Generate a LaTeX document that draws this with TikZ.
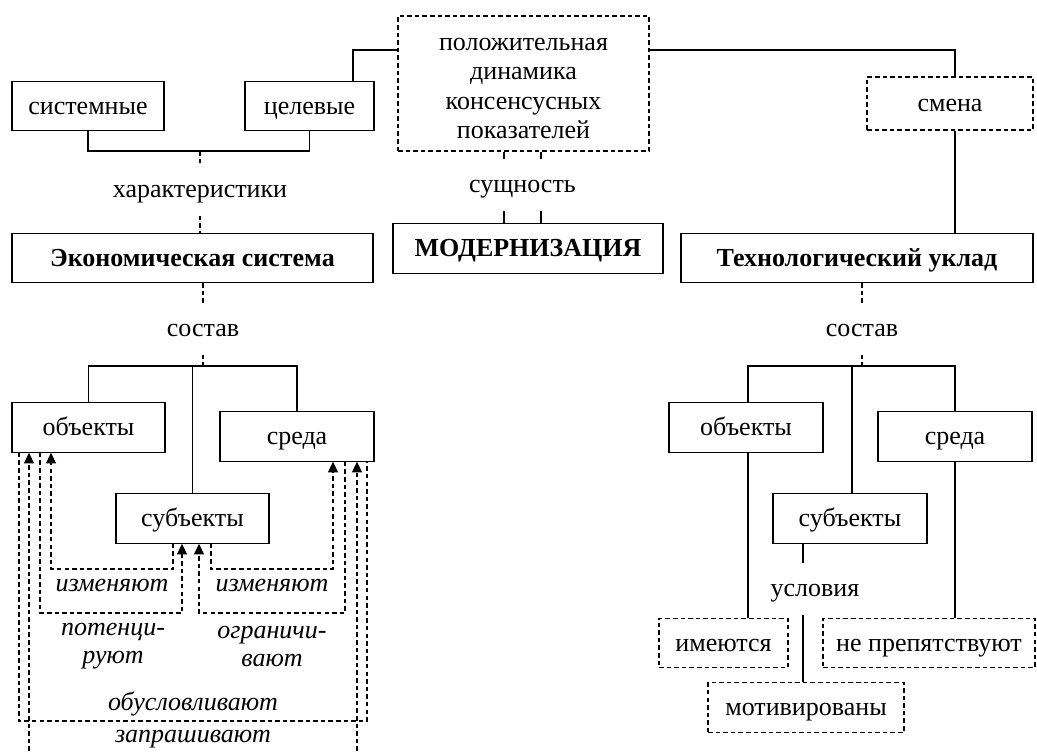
\documentclass[tikz,border=0pt]{standalone}
\usepackage{fontspec}
\setmainfont{Liberation Serif}
\usepackage{tikz}
\usetikzlibrary{arrows.meta}

\begin{document}
\begin{tikzpicture}[x=0.75pt,y=0.75pt,yscale=-1,xscale=1,
                    every node/.style={font=\fontsize{19.5}{22}\selectfont},
                    line width=0.9pt,
                    box/.style={draw, minimum height=37pt, inner sep=0pt, align=center, text height=15.6pt, text depth=3.2pt},
                    dbox/.style={box, dash pattern={on 3.4pt off 2.3pt}},
                    mbox/.style={draw, dash pattern={on 3.4pt off 2.3pt}, inner sep=0pt, text height=22.9pt, text depth=72.6pt},
                    lbl/.style={inner xsep=2pt, inner ysep=9pt, text height=15pt, text depth=4.5pt},
                    rel/.style={font=\itshape\fontsize{19.5}{21}\selectfont, inner sep=1pt, align=center},
                    dline/.style={dash pattern={on 3.4pt off 2.3pt}},
                    darr/.style={dline, -{Triangle[width=7.5pt,length=8pt]}}]
\useasboundingbox (0,0) rectangle (1037,751);

%Shape: Rectangle [top row]
\node[box, minimum width=114pt] (sist) at (88,106) {системные};
\node[box, minimum width=96.75pt] (cel) at (309.5,106) {целевые};
\node[mbox, minimum width=188.25pt, minimum height=101.25pt] (dyn) at (523.5,83.5)
  {\begin{tabular}[t]{@{}c@{}}положительная\\динамика\\консенсусных\\показателей\end{tabular}};
\node[dbox, minimum width=124.5pt, minimum height=39.75pt] (smena) at (950,103.5) {смена};
%Shape: Rectangle [main boxes]
\node[box, minimum width=270.75pt] (econ) at (192.5,258) {\textbf{Экономическая система}};
\node[box, minimum width=202.5pt] (modern) at (528,248.5) {\textbf{МОДЕРНИЗАЦИЯ}};
\node[box, minimum width=264pt] (tech) at (857,258) {\textbf{Технологический уклад}};
%Shape: Rectangle [left part]
\node[box, minimum width=114.75pt] (obA) at (88.5,427.5) {объекты};
\node[box, minimum width=115.5pt] (sredA) at (297,436.5) {среда};
\node[box, minimum width=114.75pt] (subA) at (192.5,518.5) {субъекты};
%Shape: Rectangle [right part]
\node[box, minimum width=115.5pt] (obB) at (746,427.5) {объекты};
\node[box, minimum width=115.5pt] (sredB) at (955,436.5) {среда};
\node[box, minimum width=115.5pt] (subB) at (850,518.5) {субъекты};
\node[dbox, minimum width=96.75pt] (imeB) at (723.5,643) {имеются};
\node[dbox, minimum width=159pt] (nepB) at (929,643) {не препятствуют};
\node[dbox, minimum width=147pt] (motB) at (806,707.5) {мотивированы};

% Text Node
\node[lbl] (char) at (200,190) {характеристики};
\node[lbl] (essence) at (522.5,185) {сущность};
\node[lbl] (sostA) at (203,329) {состав};
\node[lbl] (sostB) at (862,329) {состав};
\node[lbl] (uslB) at (815,589) {условия};
% Text Node [relations]
\node[rel] (izmL) at (112,586) {изменяют};
\node[rel] (izmR) at (272,586) {изменяют};
\node[rel] (potL) at (113,646) {потенци-\\руют};
\node[rel] (ogrR) at (272,646) {ограничи-\\вают};
\node[rel] (obus) at (193,704) {обусловливают};
\node[rel] (zapr) at (193,739) {запрашивают};

\coordinate (jC) at (200,151);
\coordinate (jA) at (203,366);
\coordinate (jB) at (862,366);
\coordinate (zL) at (29,751);
\coordinate (zR) at (357,751);

%Straight Lines [top]
\draw (sist.south) |- (jC) -| (cel.south);
\draw[dline] (jC) -- (char.north);
\draw[dline] (char.south) -- (econ.north -| char.south);
\draw (cel.north -| 353,0) |- (dyn.west |- 0,50);
\draw (dyn.east |- 0,50) -| (smena.north -| 955,0);
\draw (smena.south -| 955,0) -- (tech.north -| 955,0);
\draw (dyn.south -| 504,0) -- (essence.north -| 504,0);
\draw (dyn.south -| 541,0) -- (essence.north -| 541,0);
\draw (essence.south -| 504,0) -- (modern.north -| 504,0);
\draw (essence.south -| 541,0) -- (modern.north -| 541,0);

%Straight Lines [left]
\draw[dline] (econ.south -| sostA.north) -- (sostA.north);
\draw[dline] (sostA.south) -- (jA);
\draw (obA.north) |- (jA) -| (sredA.north);
\draw (jA) -| (subA.north);
\draw[darr] (subA.south -| 173,0) |- (51,569) -- (obA.south -| 51,0);
\draw[darr] (subA.south -| 211,0) |- (333,569) -- (sredA.south -| 333,0);
\draw[darr] (obA.south -| 40,0) |- (182,613) -- (subA.south -| 182,0);
\draw[darr] (sredA.south -| 345,0) |- (199,613) -- (subA.south -| 199,0);
\draw[dline] (obA.south -| 19,0) |- (367,721) -- (sredA.south -| 367,0);
\draw[darr] (zL) -- (obA.south -| 29,0);
\draw[darr] (zR) -- (sredA.south -| 357,0);

%Straight Lines [right]
\draw[dline] (tech.south -| sostB.north) -- (sostB.north);
\draw[dline] (sostB.south) -- (jB);
\draw (obB.north -| 748,0) |- (jB) -| (sredB.north);
\draw (jB) -| (subB.north -| 852,0);
\draw (obB.south -| 748,0) -- (imeB.north -| 748,0);
\draw (sredB.south) -- (nepB.north -| sredB.south);
\draw (subB.south -| 803,0) -- (uslB.north -| 803,0);
\draw (uslB.south -| 803,0) -- (motB.north -| 803,0);

\end{tikzpicture}
\end{document}
